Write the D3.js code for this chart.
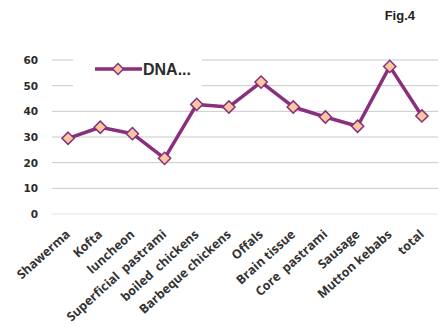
<!DOCTYPE html>
<html>
<head>
<meta charset="utf-8">
<script src="https://cdn.jsdelivr.net/npm/d3@7"></script>
<style>
  body { margin: 0; background: #fff; }
  svg { display: block; }
</style>
</head>
<body>
<svg id="chart" width="442" height="327"></svg>
<script>
const categories = ['Shawerma', 'Kofta', 'luncheon', 'Superficial  pastrami', 'boiled  chickens',
  'Barbeque chickens', 'Offals', 'Brain tissue', 'Core  pastrami', 'Sausage', 'Mutton kebabs', 'total']
const dnaValues = [29.5, 33.8, 31.3, 21.7, 42.7, 41.7, 51.4, 41.7, 37.8, 34.2, 57.5, 38.2]
const yTicks = [0, 10, 20, 30, 40, 50, 60]
const seriesName = 'DNA...'

const width = 442, height = 327
const margin = { top: 60, right: 4, bottom: 114, left: 52 }
const purple = '#8a2e7e'
const peach = '#f8c89e'

const svg = d3.select('#chart')

const x = d3.scalePoint()
  .domain(categories)
  .range([margin.left, width - margin.right])
  .padding(0.5)

const y = d3.scaleLinear()
  .domain([0, 60])
  .range([height - margin.bottom + 1, margin.top])

// gridlines
svg.append('g')
  .selectAll('line')
  .data(yTicks)
  .join('line')
  .attr('x1', margin.left)
  .attr('x2', width - margin.right)
  .attr('y1', d => y(d))
  .attr('y2', d => y(d))
  .attr('stroke', d => d === 0 ? '#e6e6e6' : '#c9c9c9')
  .attr('stroke-width', 1)

// y axis labels
const yAxis = d3.axisLeft(y).tickValues(yTicks).tickSize(0).tickPadding(14)
svg.append('g')
  .attr('transform', `translate(${margin.left},0)`)
  .call(yAxis)
  .call(g => g.select('.domain').remove())
  .selectAll('text')
  .attr('font-family', 'DejaVu Sans')
  .attr('font-weight', 'bold')
  .attr('font-size', 10.5)
  .attr('fill', '#2b2b2b')

// x labels, rotated
svg.append('g')
  .selectAll('text')
  .data(categories)
  .join('text')
  .attr('transform', d => `translate(${x(d) - 3},${y(0) + 15}) rotate(-42)`)
  .attr('text-anchor', 'end')
  .attr('dy', '0.7em')
  .attr('font-family', 'Open Sans')
  .attr('font-weight', 'bold')
  .attr('font-size', 12.5)
  .attr('fill', '#333')
  .attr('xml:space', 'preserve')
  .style('white-space', 'pre')
  .text(d => d)

// legend box hides part of the top gridlines
const legend = svg.append('g')
legend.append('rect')
  .attr('x', 73).attr('y', 52)
  .attr('width', 129).attr('height', 40)
  .attr('fill', '#fff')
legend.append('line')
  .attr('x1', 95).attr('x2', 142)
  .attr('y1', 69).attr('y2', 69)
  .attr('stroke', purple).attr('stroke-width', 3.5)
legend.append('path')
  .attr('d', d3.symbol(d3.symbolDiamond2, 75)())
  .attr('transform', 'translate(118,69)')
  .attr('fill', peach).attr('stroke', purple).attr('stroke-width', 1.5)
legend.append('text')
  .attr('x', 143).attr('y', 75)
  .attr('font-family', 'Liberation Sans')
  .attr('font-weight', 'bold')
  .attr('font-size', 16)
  .attr('fill', '#2b2b2b')
  .text(seriesName)

// series line
const line = d3.line()
  .x((d, i) => x(categories[i]))
  .y(d => y(d))

svg.append('path')
  .datum(dnaValues)
  .attr('d', line)
  .attr('fill', 'none')
  .attr('stroke', purple)
  .attr('stroke-width', 3.5)
  .attr('stroke-linejoin', 'round')

svg.append('g')
  .selectAll('path')
  .data(dnaValues)
  .join('path')
  .attr('d', d3.symbol(d3.symbolDiamond2, 95)())
  .attr('transform', (d, i) => `translate(${x(categories[i])},${y(d)})`)
  .attr('fill', peach)
  .attr('stroke', purple)
  .attr('stroke-width', 1.5)

// figure tag
svg.append('text')
  .attr('x', 415).attr('y', 20)
  .attr('text-anchor', 'end')
  .attr('font-family', 'Liberation Sans')
  .attr('font-weight', 'bold')
  .attr('font-size', 13)
  .attr('fill', '#222')
  .text('Fig.4')
</script>
</body>
</html>
